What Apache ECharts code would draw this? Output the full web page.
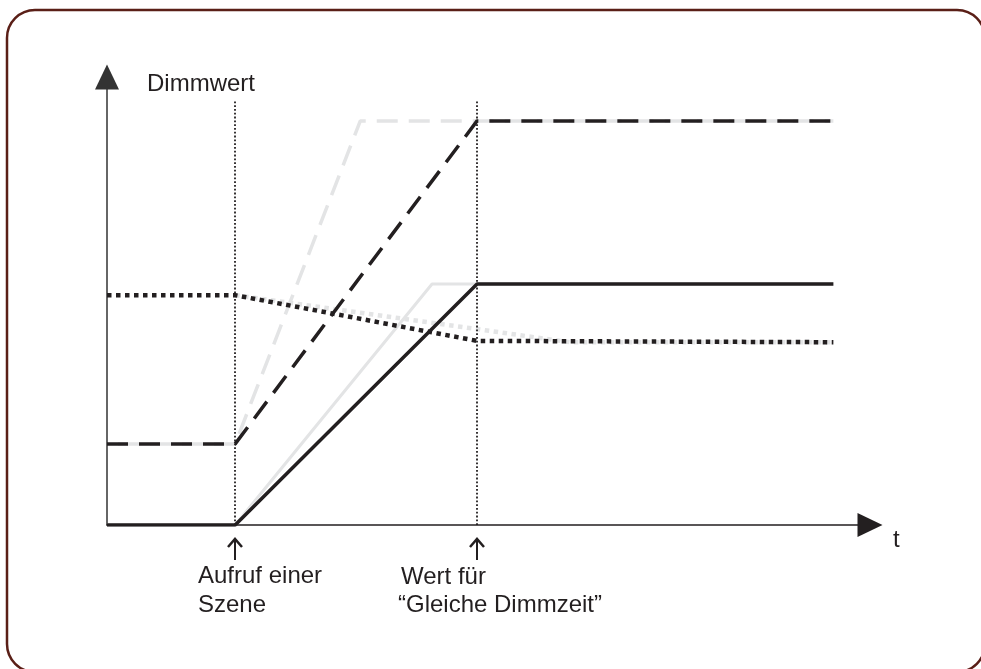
<!DOCTYPE html>
<html>
<head>
<meta charset="utf-8">
<script src="https://cdn.jsdelivr.net/npm/echarts@6/dist/echarts.min.js"></script>
<style>
  html, body { margin: 0; padding: 0; background: #fff; }
  #chart { width: 981px; height: 669px; }
</style>
</head>
<body>
<div id="chart"></div>
<script>
// Zeit in % der Achse, Dimmwert in % der Achse
const tAufruf = 16.8;
const tGleich = 48.5;
const tEnde = 95.2;

// schwarz = gleiche Dimmzeit, grau = gleiche Geschwindigkeit
const solidBlack = [[0, 0], [tAufruf, 0], [tGleich, 53.8], [tEnde, 53.8]];
const solidGrey = [[0, 0], [tAufruf, 0], [42.6, 53.8], [tEnde, 53.8]];
const dashedBlack = [[0, 18.1], [tAufruf, 18.1], [tGleich, 90.2], [tEnde, 90.2]];
const dashedGrey = [[0, 18.1], [tAufruf, 18.1], [33.2, 90.2], [tEnde, 90.2]];
const dottedBlack = [[0, 51.3], [tAufruf, 51.3], [tGleich, 41.1], [tEnde, 40.8]];
const dottedGrey = [[tAufruf, 51.3], [60.7, 40.8], [tEnde, 40.8]];
const markerTimes = [tAufruf, tGleich];
const markerTop = 94.9;

const black = '#231f20';
const grey = '#e3e4e5';
const font = '24px "Liberation Sans", Arial, sans-serif';

let myChart = echarts.init(document.getElementById('chart'));

const lineSeries = (data, color, type, width, offset) => ({
  type: 'line',
  data: data,
  symbol: 'none',
  silent: true,
  animation: false,
  lineStyle: { color: color, width: width, type: type, dashOffset: offset || 0, cap: 'butt' }
});

const option = {
  animation: false,
  grid: { left: 107, right: 111, top: 77, bottom: 144 },
  xAxis: {
    type: 'value', min: 0, max: 100,
    axisLine: { lineStyle: { color: black, width: 1.5 }, symbol: ['none', 'triangle'], symbolSize: [24, 25] },
    axisTick: { show: false }, axisLabel: { show: false }, splitLine: { show: false }
  },
  yAxis: {
    type: 'value', min: 0, max: 100,
    axisLine: { show: true, lineStyle: { color: '#333', width: 1.5 }, symbol: ['none', 'triangle'], symbolSize: [24, 25] },
    axisTick: { show: false }, axisLabel: { show: false }, splitLine: { show: false }
  },
  series: [
    lineSeries(solidGrey, grey, 'solid', 3),
    lineSeries(dashedGrey, grey, [21, 11], 3.5, 21),
    lineSeries(dottedGrey, grey, [4.5, 4.5], 4.5),
    {
      type: 'line', data: [], silent: true,
      markLine: {
        silent: true, symbol: 'none', animation: false,
        label: { show: false },
        lineStyle: { color: black, width: 1.8, type: [1.8, 2] },
        data: markerTimes.map(t => [{ coord: [t, 0] }, { coord: [t, markerTop] }])
      }
    },
    lineSeries(dottedBlack, black, [4.5, 4.5], 4.5),
    lineSeries(dashedBlack, black, [21, 11], 3.5),
    lineSeries(solidBlack, black, 'solid', 3.5)
  ],
  graphic: [
    { type: 'rect', shape: { x: 7, y: 10, width: 978, height: 662, r: 28 },
      style: { fill: 'none', stroke: '#5a1f17', lineWidth: 2.5 } },
    { type: 'text', x: 147, y: 84, style: { text: 'Dimmwert', font: font, fill: black, verticalAlign: 'middle' } },
    { type: 'text', x: 893, y: 540, style: { text: 't', font: font, fill: black, verticalAlign: 'middle' } },
    { type: 'text', x: 198, y: 576, style: { text: 'Aufruf einer', font: font, fill: black, verticalAlign: 'middle' } },
    { type: 'text', x: 198, y: 605, style: { text: 'Szene', font: font, fill: black, verticalAlign: 'middle' } },
    { type: 'text', x: 401, y: 577, style: { text: 'Wert für', font: font, fill: black, verticalAlign: 'middle' } },
    { type: 'text', x: 398, y: 605, style: { text: '“Gleiche Dimmzeit”', font: font, fill: black, verticalAlign: 'middle' } },
    { type: 'polyline', shape: { points: [[235, 560], [235, 539]] }, style: { stroke: black, lineWidth: 2 } },
    { type: 'polyline', shape: { points: [[228, 547], [235, 539], [242, 547]] }, style: { stroke: black, lineWidth: 2.5, fill: 'none' } },
    { type: 'polyline', shape: { points: [[477, 560], [477, 539]] }, style: { stroke: black, lineWidth: 2 } },
    { type: 'polyline', shape: { points: [[470, 547], [477, 539], [484, 547]] }, style: { stroke: black, lineWidth: 2.5, fill: 'none' } }
  ]
};
myChart.setOption(option);
</script>
</body>
</html>
